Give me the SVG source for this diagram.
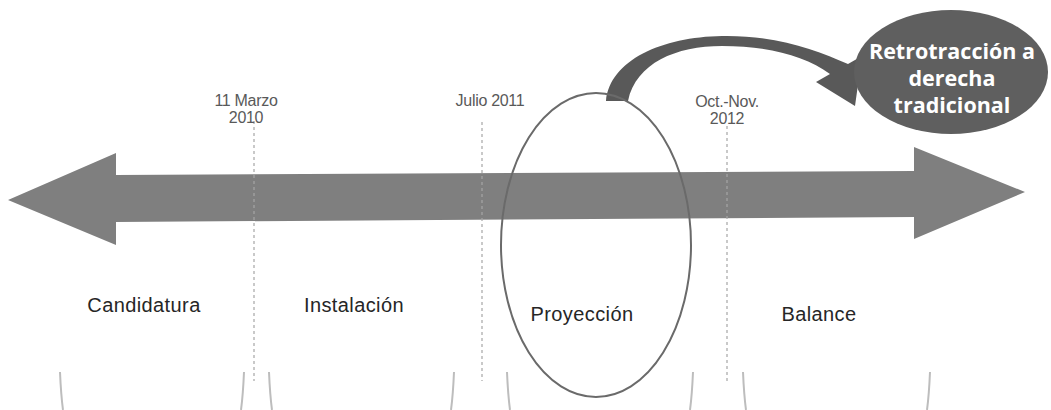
<svg xmlns="http://www.w3.org/2000/svg" width="1051" height="410" viewBox="0 0 1051 410">
<style>
.date{font-family:"Liberation Sans",Arial,sans-serif;font-size:16px;fill:#595959;text-anchor:middle;letter-spacing:-0.3px}
.phase{font-family:"Liberation Sans",Arial,sans-serif;font-size:20px;fill:#262626;text-anchor:middle;letter-spacing:0.4px}
.dash{stroke:#a6a6a6;stroke-width:1.2;stroke-dasharray:3 3;fill:none}
.arc{stroke:#bdbdbd;stroke-width:2;fill:none}
.white{font-family:"Open Sans","Liberation Sans",sans-serif;font-weight:bold;font-size:21.5px;fill:#ffffff;text-anchor:middle}
</style>
<rect width="1051" height="410" fill="#ffffff"/>
<g id="timeline">
<polygon points="8,200 116,153 116,175 914,171 914,147 1025,192 914,239 914,217 116,222 116,245" fill="#7f7f7f"/>
</g>
<g id="connectors">
<line class="dash" x1="254" y1="121" x2="254" y2="381"/>
<line class="dash" x1="482" y1="122" x2="482" y2="381"/>
<line class="dash" x1="727" y1="126" x2="727" y2="381"/>
<path d="M606,101 C610,60 662,37 722,36 C776,35 816,50 848,64 L862,56 L855,106 L816,82 L830,74 C805,56 768,46 722,46 C676,46 636,63 628,101 Z" fill="#595959"/>
</g>
<g id="brackets">
<path class="arc" d="M60,372 Q61,395 63,410"/>
<path class="arc" d="M244,372 Q243,395 241,410"/>
<path class="arc" d="M269,372 Q270,395 272,410"/>
<path class="arc" d="M454,372 Q453,395 451,410"/>
<path class="arc" d="M507,372 Q508,395 510,410"/>
<path class="arc" d="M693,372 Q692,395 690,410"/>
<path class="arc" d="M743,372 Q744,395 746,410"/>
<path class="arc" d="M930,372 Q929,395 927,410"/>
</g>
<g id="proyeccion-ellipse">
<ellipse cx="596" cy="245" rx="95" ry="152" fill="none" stroke="#6a6a6a" stroke-width="2"/>
</g>
<g id="date-2010">
<text class="date" x="246" y="106">11 Marzo</text>
<text class="date" x="246" y="123">2010</text>
</g>
<g id="date-2011">
<text class="date" x="490" y="106">Julio 2011</text>
</g>
<g id="date-2012">
<text class="date" x="727" y="107">Oct.-Nov.</text>
<text class="date" x="727" y="124">2012</text>
</g>
<g id="candidatura"><text class="phase" x="144" y="312">Candidatura</text></g>
<g id="instalacion"><text class="phase" x="354" y="312">Instalación</text></g>
<g id="proyeccion"><text class="phase" x="582" y="321">Proyección</text></g>
<g id="balance"><text class="phase" x="819" y="321">Balance</text></g>
<g id="retrotraccion">
<ellipse cx="951" cy="72" rx="97" ry="62" fill="#5f5f5f"/>
<text class="white" x="952" y="59">Retrotracción a</text>
<text class="white" x="952" y="86">derecha</text>
<text class="white" x="952" y="113">tradicional</text>
</g>
</svg>
